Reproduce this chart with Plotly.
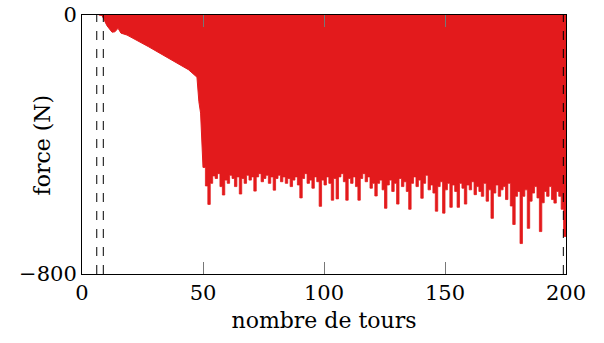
import plotly.graph_objects as go

# --- data ---
early_turns = [6.9, 8.3, 10.3, 12.4, 13.6, 14.9, 16.1, 18.6, 27.5, 37.2, 44.0, 47.5, 48.3, 49.0, 49.6, 50.0]
early_force = [0, -2, -33, -53, -52, -41, -56, -62, -98, -139, -169, -192, -268, -303, -393, -471]

late_turns = list(range(50, 201))
late_force = [
    -471, -528, -585, -520, -497, -505, -490, -530, -556, -510,
    -520, -495, -505, -530, -500, -553, -505, -520, -495, -510,
    -500, -544, -500, -490, -515, -505, -495, -520, -500, -541,
    -505, -495, -515, -500, -520, -505, -530, -510, -500, -525,
    -565, -505, -490, -520, -510, -535, -500, -515, -591, -510,
    -525, -500, -520, -572, -505, -568, -500, -490, -515, -572,
    -505, -520, -500, -530, -572, -505, -490, -515, -500, -535,
    -520, -559, -520, -510, -540, -597, -525, -510, -545, -520,
    -584, -505, -530, -515, -545, -600, -520, -500, -530, -510,
    -566, -520, -495, -540, -525, -550, -606, -530, -515, -612,
    -540, -520, -594, -525, -545, -594, -520, -535, -584, -525,
    -540, -515, -555, -530, -545, -560, -520, -575, -540, -628,
    -550, -525, -560, -540, -530, -570, -520, -590, -647, -560,
    -545, -706, -560, -540, -659, -575, -550, -530, -565, -669,
    -580, -545, -560, -530, -570, -581, -545, -560, -600, -684,
    -640,
]

marker_turns = [6.1, 8.8, 198.9]
x_ticks = [0, 50, 100, 150, 200]
y_ticks = [-800, 0]

RED = "#e31a1c"
FONT = "DejaVu Serif"

fig = go.Figure()
fig.add_trace(go.Scatter(x=early_turns, y=early_force, mode="lines",
                         line=dict(color=RED, width=1), fill="tozeroy",
                         fillcolor=RED, showlegend=False, hoverinfo="skip"))
fig.add_trace(go.Scatter(x=late_turns, y=late_force, mode="lines",
                         line=dict(color=RED, width=0.8, shape="hv"), fill="tozeroy",
                         fillcolor=RED, showlegend=False, hoverinfo="skip"))
for t in marker_turns:
    fig.add_trace(go.Scatter(x=[t, t], y=[-800, 0], mode="lines",
                             line=dict(color="black", width=1, dash="dash"),
                             showlegend=False, hoverinfo="skip"))

fig.update_layout(
    width=604, height=343,
    margin=dict(l=82, r=38, t=15, b=69),
    paper_bgcolor="white", plot_bgcolor="white",
    font=dict(family=FONT, size=21, color="black"),
    xaxis=dict(range=[0, 200], tickvals=x_ticks, ticks="inside", ticklen=12,
               tickcolor="#777", tickwidth=1, showline=True, linecolor="black",
               linewidth=1, mirror="ticks", showgrid=False, zeroline=False,
               automargin=False, ticklabeloverflow="allow",
               title=dict(text="nombre de tours", standoff=8,
                          font=dict(family=FONT, size=22)),
               tickfont=dict(family=FONT, size=21)),
    yaxis=dict(range=[-800, 0], tickvals=y_ticks, ticks="inside", ticklen=12,
               tickcolor="#777", tickwidth=1, showline=True, linecolor="black",
               linewidth=1, mirror="ticks", showgrid=False, zeroline=False,
               automargin=False, ticklabeloverflow="allow",
               tickfont=dict(family=FONT, size=21)),
    annotations=[dict(text="force (N)", textangle=-90, xref="paper", yref="paper",
                      x=-0.0806, y=0.5, xanchor="center", yanchor="middle",
                      showarrow=False, font=dict(family=FONT, size=22))],
)

# remove the browser's default 8px body margin so the figure fills the window
fig.write_html("out.html", config={"displayModeBar": False},
               post_script="document.body.style.margin='0';document.body.style.overflow='hidden';")
